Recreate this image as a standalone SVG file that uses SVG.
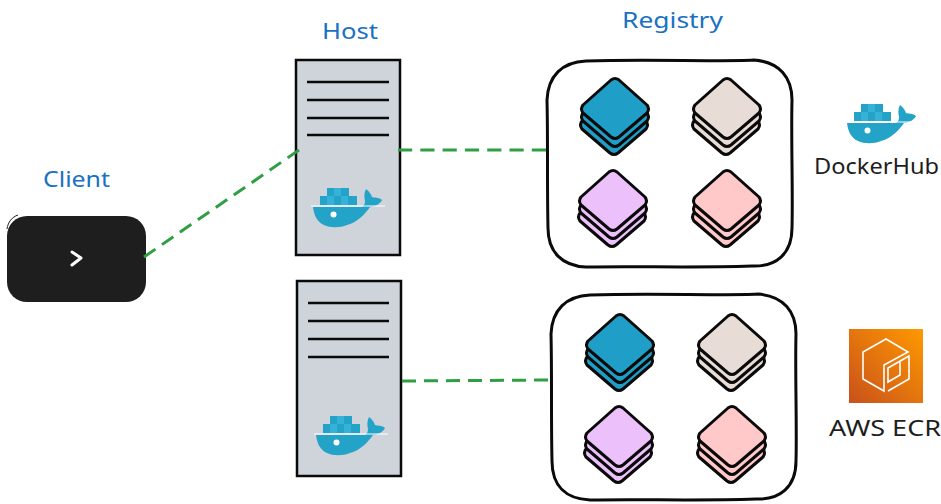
<svg xmlns="http://www.w3.org/2000/svg" xmlns:xlink="http://www.w3.org/1999/xlink" width="941" height="504" viewBox="0 0 941 504">
<style>
text{font-family:"Noto Sans","DejaVu Sans",sans-serif;font-size:22px}
.lbl{fill:#1971c2}
.blk{fill:#1e1e1e}
.srv{fill:#ced4da;stroke:#0a0a0a;stroke-width:2.5}
.ln{stroke:#0a0a0a;stroke-width:2.5;fill:none}
.reg{fill:#fff;stroke:#0a0a0a;stroke-width:3}
.conn{fill:none;stroke:#2f9e44;stroke-width:3;stroke-dasharray:14 8}
.lay{stroke:#0a0a0a;stroke-width:3;stroke-linejoin:round}
.b{fill:#1f9fc7}.t{fill:#e8dcd7}.p{fill:#ebc0fb}.r{fill:#ffc9c9}
.c1{fill:#24a3c8}.c2{fill:#36b2d9}
.aws{fill:none;stroke:#fff;stroke-width:1.6;stroke-linejoin:miter}
</style>
<defs>
<linearGradient id="awsg" x1="0" y1="1" x2="1" y2="0"><stop offset="0" stop-color="#c8511b"/><stop offset="1" stop-color="#f90"/></linearGradient>
<path id="layer" d="M-4,-29Q0,-32 4,-29L32,-4Q35,0 32,4L4,28Q0,31 -4,28L-32,4Q-35,0 -32,-4Z"/>
<g id="stack">
<use xlink:href="#layer" href="#layer" x="-1" y="16"/>
<use xlink:href="#layer" href="#layer" x="0" y="8"/>
<use xlink:href="#layer" href="#layer"/>
</g>
<g id="whale">
<path class="c1" d="M320,196h37v9h-37z"/>
<path class="c1" d="M327,188h22v8h-22z"/>
<path class="c2" d="M334,188h7v8h-7zM327,196h7v9h-7zM341,196h7v9h-7z"/>
<path class="c1" d="M313,207H370C365,214 358,222 347,225C340,228 330,228 324,225C317,222 314,215 313,207Z"/>
<path class="c1" d="M368,207C375,207 380,204 382,200C379,197 374,198 372,197C371,194 369,191 366,189C364,193 364,197 365,201C365,204 364,206 362,207Z"/>
<path d="M311,206H385" fill="none" stroke="#fff" stroke-width="1.200"/>
<circle cx="333.500" cy="214.500" r="3" fill="#fff"/>
</g>
</defs>
<rect width="941" height="504" fill="#fff"/>

<g id="client">
<rect x="7" y="216" width="139" height="86" rx="20" fill="#1e1e1e"/>
<path d="M7,229C8,222 12,217 18,215" fill="none" stroke="#1e1e1e" stroke-width="1"/>
<path d="M72,252L81,258L72,265" fill="none" stroke="#fff" stroke-width="3" stroke-linecap="round" stroke-linejoin="round"/>
<text class="lbl" x="43" y="187" textLength="67" lengthAdjust="spacingAndGlyphs">Client</text>
</g>

<g id="host1">
<rect class="srv" x="296" y="60" width="104" height="195"/>
<path class="ln" d="M307,82H389M307,100H389M307,118H389M307,135H389"/>
<use xlink:href="#whale" href="#whale"/>
<text class="lbl" x="322" y="39" textLength="56" lengthAdjust="spacingAndGlyphs">Host</text>
</g>

<g id="host2">
<rect class="srv" x="297" y="281" width="104" height="195"/>
<path class="ln" d="M308,303H389M308,321H389M308,339H389M308,357H389"/>
<use xlink:href="#whale" href="#whale" x="3" y="228"/>
</g>

<g id="registry1">
<path class="reg" d="M586,61C650,59 720,62 754,60C780,62 792,78 792,100C791,140 793,190 792,228C792,254 776,267 752,266C690,268 640,266 586,267C562,266 548,252 548,228C547,185 548,140 547,100C548,76 562,62 586,61Z"/>
<use class="b lay" xlink:href="#stack" href="#stack" x="615" y="109"/>
<use class="t lay" xlink:href="#stack" href="#stack" x="727" y="109"/>
<use class="p lay" xlink:href="#stack" href="#stack" x="613" y="201"/>
<use class="r lay" xlink:href="#stack" href="#stack" x="727" y="201"/>
<text class="lbl" x="622" y="28" textLength="101" lengthAdjust="spacingAndGlyphs">Registry</text>
</g>

<g id="registry2">
<path class="reg" d="M590,295C654,293 724,296 758,294C784,296 796,312 796,334C795,374 797,424 796,461C796,487 780,500 756,499C694,501 644,499 590,500C566,499 552,486 552,461C551,419 552,374 551,334C552,310 566,296 590,295Z"/>
<use class="b lay" xlink:href="#stack" href="#stack" x="620" y="345"/>
<use class="t lay" xlink:href="#stack" href="#stack" x="732" y="345"/>
<use class="p lay" xlink:href="#stack" href="#stack" x="619" y="437"/>
<use class="r lay" xlink:href="#stack" href="#stack" x="732" y="437"/>
</g>

<g id="dockerhub">
<use xlink:href="#whale" href="#whale" x="534" y="-84"/>
<text class="blk" x="814" y="174" textLength="125" lengthAdjust="spacingAndGlyphs">DockerHub</text>
</g>

<g id="awsecr">
<rect x="849" y="329" width="74" height="74" fill="url(#awsg)"/>
<path class="aws" d="M886,339L908,352L884,365V391L863,379V352Z"/>
<path class="aws" d="M888,391L909,379V356L888,368V382L900,375V362"/>
<text class="blk" x="829" y="436" textLength="112" lengthAdjust="spacingAndGlyphs">AWS ECR</text>
</g>

<g id="connectors">
<path class="conn" pathLength="190" d="M144,257L299,150"/>
<path class="conn" pathLength="146" d="M398,150H546"/>
<path class="conn" pathLength="146" d="M402,381L548,380"/>
</g>
</svg>
